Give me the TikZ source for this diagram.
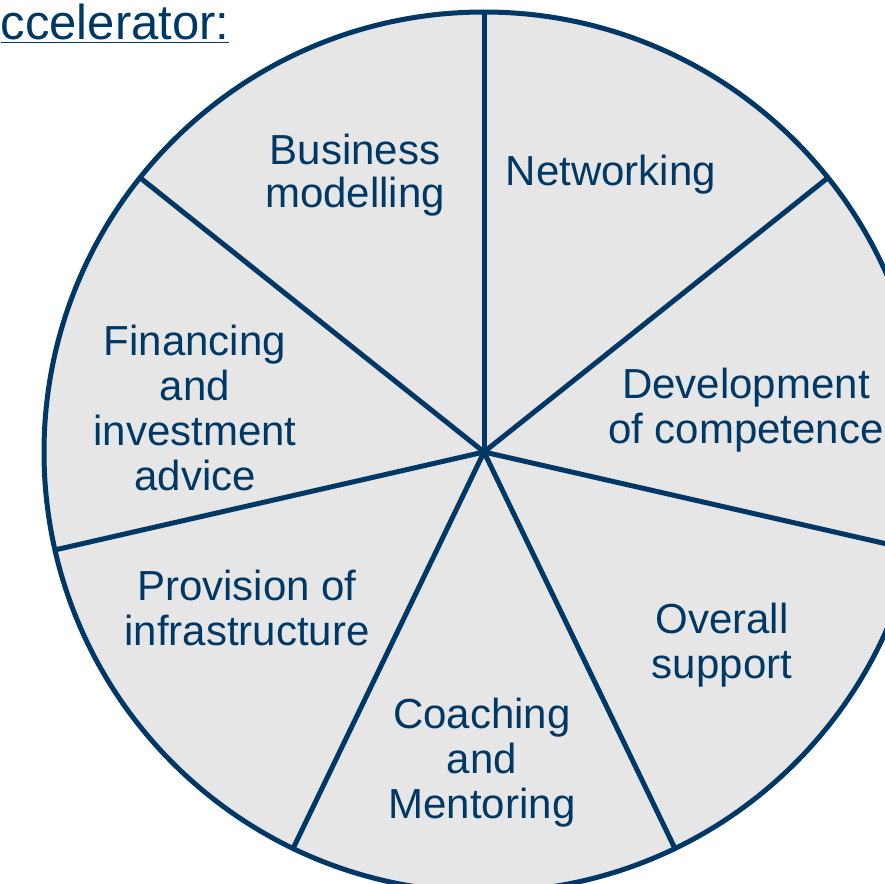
\documentclass[tikz,border=0pt]{standalone}
\usepackage{fontspec}
\setmainfont{Liberation Sans}
\definecolor{navy}{RGB}{0,56,101}
\definecolor{piefill}{RGB}{230,230,230}
\begin{document}
\begin{tikzpicture}[x=1pt,y=1pt,
  segtext/.style={text=navy,align=center,inner sep=0pt,
    font=\fontsize{42}{45}\selectfont},
  rim/.style={draw=navy,line width=5pt},
  spoke/.style={draw=navy,line width=5pt}]
\clip (0,0) rectangle (885,-883);
\useasboundingbox (0,0) rectangle (885,-883);
% wheel of services
\coordinate (c) at (484,-452);
\fill[piefill] (c) circle[radius=440];
\foreach \a in {90,38.571,-12.857,-64.286,-115.714,-167.143,141.429}
  \draw[spoke] (c) -- ++(\a:440);
\draw[rim] (c) circle[radius=440];
% heading
\node[text=navy,anchor=base west,inner sep=0pt,font=\fontsize{49}{56}\selectfont]
  (title) at (0.5,-40) {\underline{ccelerator:}};
% segment labels
\node[segtext] (business) at (355,-175) {Business\\[-2pt]modelling};
\node[segtext] (network) at (611,-175) {Networking};
\node[segtext] (develop) at (746,-410) {Development\\of competence};
\node[segtext] (overall) at (722,-645) {Overall\\support};
\node[segtext] (coach) at (482,-763) {Coaching\\and\\Mentoring};
\node[segtext] (infra) at (247,-608) {Provision of\\infrastructure};
\node[segtext] (finance) at (195,-408) {Financing\\and\\investment\\advice};
\end{tikzpicture}
\end{document}
